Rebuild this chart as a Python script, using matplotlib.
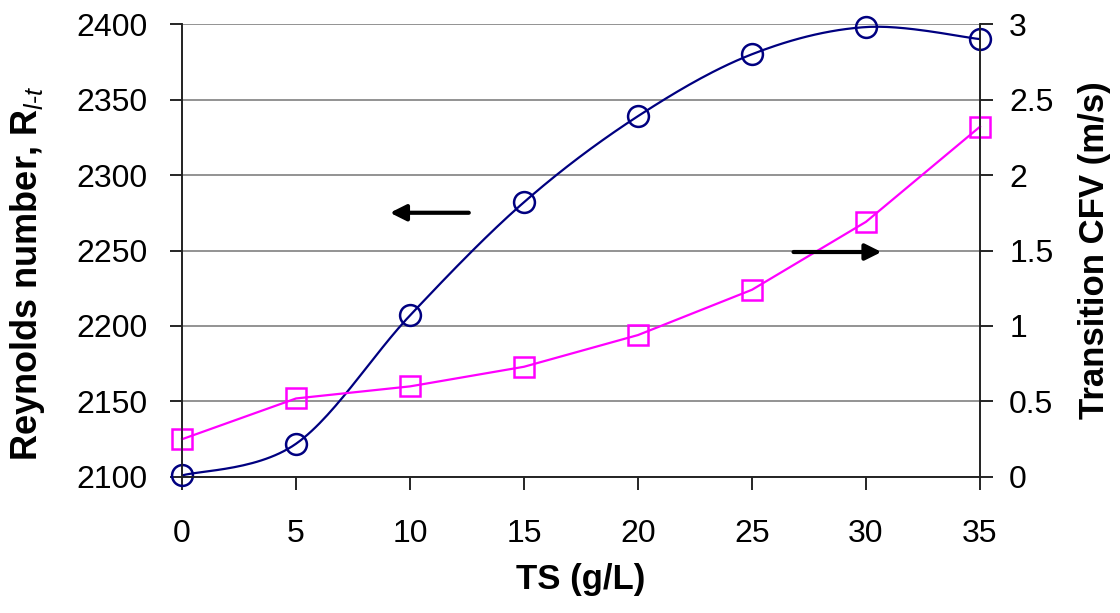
import numpy as np
import matplotlib.pyplot as plt

plt.rcParams['font.family'] = ['Liberation Sans', 'DejaVu Sans']
plt.rcParams['mathtext.fontset'] = 'custom'
plt.rcParams['mathtext.rm'] = 'Liberation Sans'
plt.rcParams['mathtext.it'] = 'Liberation Sans:italic'
plt.rcParams['mathtext.bf'] = 'Liberation Sans:bold'

ts = [0, 5, 10, 15, 20, 25, 30, 35]
reynolds = [2101, 2122, 2207, 2282, 2339, 2380, 2398, 2390]
cfv = [0.25, 0.52, 0.60, 0.73, 0.94, 1.24, 1.69, 2.32]

x_ticks = [0, 5, 10, 15, 20, 25, 30, 35]
re_ticks = [2100, 2150, 2200, 2250, 2300, 2350, 2400]
cfv_ticks = [0, 0.5, 1, 1.5, 2, 2.5, 3]
cfv_labels = ['0', '0.5', '1', '1.5', '2', '2.5', '3']


def smooth_line(x, y, n=30):
    # Catmull-Rom through the points, like a spreadsheet "smoothed line"
    x = np.asarray(x, float)
    y = np.asarray(y, float)
    px = np.concatenate([[x[0]], x, [x[-1]]])
    py = np.concatenate([[y[0]], y, [y[-1]]])
    xs, ys = [], []
    t = np.linspace(0, 1, n)
    for i in range(1, len(px) - 2):
        for p, out in ((px, xs), (py, ys)):
            p0, p1, p2, p3 = p[i - 1], p[i], p[i + 1], p[i + 2]
            out.extend(0.5 * ((2 * p1) + (-p0 + p2) * t
                              + (2 * p0 - 5 * p1 + 4 * p2 - p3) * t ** 2
                              + (-p0 + 3 * p1 - 3 * p2 + p3) * t ** 3))
    return np.array(xs), np.array(ys)


fig = plt.figure(figsize=(11.2, 6.13), dpi=100)
ax = fig.add_axes([0.1625, 0.2219, 0.7125, 0.7389])
ax2 = ax.twinx()

sx, sy = smooth_line(ts, reynolds)
ax.plot(sx, sy, color='#000080', lw=1.6, zorder=3)
ax.plot(ts, reynolds, ls='none', marker='o', ms=15, mfc='none',
        mec='#000080', mew=1.8, zorder=4, clip_on=False)

ax2.plot(ts, cfv, color='#FF00FF', lw=1.6, marker='s', ms=15, mfc='none',
         mec='#FF00FF', mew=1.8, clip_on=False)

ax.set_xlim(0, 35)
ax.set_ylim(2100, 2400)
ax2.set_ylim(0, 3)
ax.set_xticks(x_ticks)
ax.set_yticks(re_ticks)
ax2.set_yticks(cfv_ticks)
ax2.set_yticklabels(cfv_labels)

ax.yaxis.grid(True, color='#808080', lw=1.2)
ax.set_axisbelow(True)

for a in (ax, ax2):
    a.spines['top'].set_visible(False)
    for s in ('left', 'right', 'bottom'):
        a.spines[s].set_linewidth(1.2)
        a.spines[s].set_color('#222222')

ax.tick_params(axis='y', direction='out', length=9, width=1.2, pad=16, labelsize=23)
ax.tick_params(axis='x', direction='out', length=9, width=1.2, pad=21, labelsize=23)
ax2.tick_params(axis='y', direction='out', length=9, width=1.2, pad=12, labelsize=23)

ax.set_xlabel('TS (g/L)', fontsize=25, fontweight='bold', labelpad=10)
ax.set_ylabel(r'Reynolds number, R$_{\mathit{l}\text{-}\mathit{t}}$',
              fontsize=26, fontweight='bold')
ax.yaxis.set_label_coords(-0.169, 0.45)
ax2.set_ylabel('Transition CFV (m/s)', fontsize=25, fontweight='bold')
ax2.yaxis.set_label_coords(1.123, 0.5)

# arrows pointing each curve to its axis
ax.annotate('', xy=(9.0, 2275), xytext=(12.7, 2275),
            arrowprops=dict(arrowstyle='-|>', color='black', lw=3,
                            mutation_scale=24))
ax2.annotate('', xy=(30.8, 1.49), xytext=(26.7, 1.49),
             arrowprops=dict(arrowstyle='-|>', color='black', lw=3,
                             mutation_scale=24))

fig.savefig('out.png', dpi=100)
